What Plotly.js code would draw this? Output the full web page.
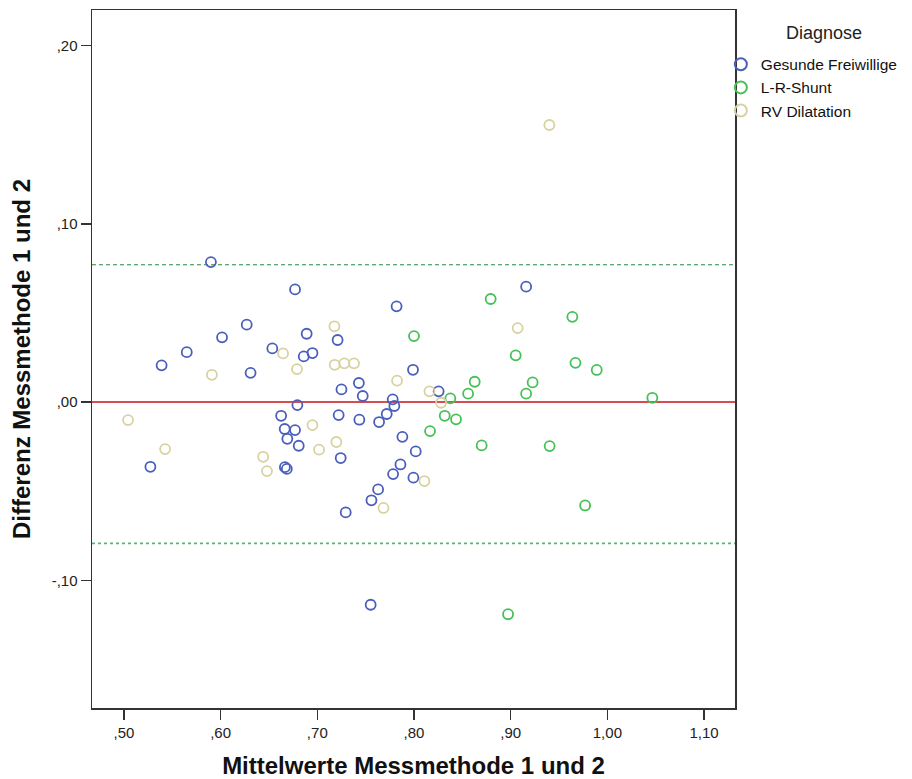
<!DOCTYPE html>
<html>
<head>
<meta charset="utf-8">
<script src="https://cdn.plot.ly/plotly-3.0.1.min.js"></script>
<style>html,body{margin:0;padding:0;background:#fff;}#chart{width:912px;height:779px;}</style>
</head>
<body>
<div id="chart"></div>
<script>
// Gesunde Freiwillige
const gesundeX = [0.590,0.677,0.782,0.627,0.6015,0.565,0.539,0.631,0.6535,0.686,0.695,0.689,0.721,0.743,0.799,0.725,0.747,0.778,0.5274,0.6665,0.6685,0.6626,0.6794,0.6663,0.677,0.669,0.6808,0.7221,0.7242,0.7797,0.7718,0.7435,0.7639,0.788,0.8018,0.786,0.7784,0.7994,0.7629,0.756,0.7294,0.7552,0.916,0.8255];
const gesundeY = [0.0785,0.0632,0.0537,0.0434,0.0363,0.028,0.0206,0.0164,0.0301,0.0256,0.0275,0.0383,0.0348,0.0107,0.0181,0.0071,0.0034,0.0015,-0.0363,-0.0365,-0.0375,-0.0077,-0.0017,-0.0151,-0.0157,-0.0206,-0.0245,-0.0073,-0.0314,-0.0022,-0.0067,-0.0099,-0.0112,-0.0195,-0.0277,-0.035,-0.0404,-0.0424,-0.049,-0.0551,-0.0619,-0.1137,0.0647,0.006];
// L-R-Shunt
const shuntX = [0.800,0.8793,0.9638,0.9052,0.967,0.989,0.8628,0.9227,0.856,0.916,0.8376,1.0465,0.8318,0.8435,0.8166,0.870,0.9403,0.977,0.8973];
const shuntY = [0.037,0.0578,0.0478,0.0262,0.022,0.018,0.0114,0.011,0.0047,0.0047,0.0021,0.0024,-0.0077,-0.0097,-0.0163,-0.0243,-0.0247,-0.058,-0.119];
// RV Dilatation
const rvX = [0.591,0.6646,0.679,0.7177,0.718,0.728,0.738,0.7825,0.9072,0.816,0.828,0.5043,0.5426,0.644,0.648,0.695,0.7018,0.7197,0.7684,0.8108,0.940];
const rvY = [0.0153,0.0273,0.0185,0.0425,0.0209,0.0217,0.0217,0.012,0.0415,0.006,-0.0004,-0.0101,-0.0264,-0.0307,-0.0387,-0.0129,-0.0267,-0.0224,-0.0594,-0.0443,0.1554];

// Reference lines
const meanDiff = 0.0;
const upperLoA = 0.0770;
const lowerLoA = -0.0793;

// Tick labels
const xTickVals = [0.5,0.6,0.7,0.8,0.9,1.0,1.1];
const xTickText = [",50",",60",",70",",80",",90","1,00","1,10"];
const yTickVals = [0.2,0.1,0.0,-0.1];
const yTickText = [",20",",10",",00","-,10"];

const groupNames = ["Gesunde Freiwillige","L-R-Shunt","RV Dilatation"];
const groupColors = ["#4a5fbb","#45c157","#d8d2a0"];
const groupX = [gesundeX, shuntX, rvX];
const groupY = [gesundeY, shuntY, rvY];

const traces = groupNames.map((n,i)=>({
  type:'scatter', mode:'markers', name:n, x:groupX[i], y:groupY[i],
  marker:{symbol:'circle-open', size:10, color:groupColors[i], line:{width:1.8, color:groupColors[i]}},
  hoverinfo:'x+y'
}));

const font = "Liberation Sans, Arial, sans-serif";
const layout = {
  width:912, height:779,
  margin:{l:92, r:177, t:10, b:71, autoexpand:false},
  paper_bgcolor:'#fff', plot_bgcolor:'#fff',
  showlegend:true,
  font:{family:font, color:'#222', size:15},
  xaxis:{
    range:[0.467,1.132], tickvals:xTickVals, ticktext:xTickText,
    showgrid:false, zeroline:false, showline:true, linecolor:'#333', linewidth:1.5, mirror:true,
    ticks:'outside', ticklen:10, tickwidth:1.5, tickcolor:'#333',
    tickfont:{family:font, size:15, color:'#222'},
    title:{text:'<b>Mittelwerte Messmethode 1 und 2</b>', font:{family:font, size:24, color:'#111'}, standoff:18}
  },
  yaxis:{
    range:[-0.1716,0.2199], tickvals:yTickVals, ticktext:yTickText,
    showgrid:false, zeroline:false, showline:true, linecolor:'#333', linewidth:1.5, mirror:true,
    ticks:'outside', ticklen:10, tickwidth:1.5, tickcolor:'#333',
    tickfont:{family:font, size:15, color:'#222'},
    title:{text:'<b>Differenz Messmethode 1 und 2</b>', font:{family:font, size:24, color:'#111'}, standoff:14}
  },
  legend:{
    x:0.978, y:0.946, xanchor:'left', yanchor:'top',
    font:{family:font, size:15.5, color:'#111'},
    bgcolor:'rgba(0,0,0,0)', itemsizing:'constant', itemwidth:30, tracegroupgap:0
  },
  annotations:[
    {text:'Diagnose', xref:'paper', yref:'paper', x:1.1384, y:0.967, xanchor:'center', yanchor:'middle', showarrow:false, font:{family:font, size:18, color:'#222'}}
  ],
  shapes:[
    {type:'line', xref:'paper', x0:0, x1:1, yref:'y', y0:upperLoA, y1:upperLoA, line:{color:'#2a8a3e', width:1.2, dash:'4px,3px'}, layer:'below'},
    {type:'line', xref:'paper', x0:0, x1:1, yref:'y', y0:lowerLoA, y1:lowerLoA, line:{color:'#55b872', width:1.8, dash:'3px,3px'}, layer:'below'},
    {type:'line', xref:'paper', x0:0, x1:1, yref:'y', y0:meanDiff, y1:meanDiff, line:{color:'#c8101a', width:1.5}, layer:'below'}
  ]
};
Plotly.newPlot('chart', traces, layout, {displayModeBar:false, staticPlot:true});
</script>
</body>
</html>
